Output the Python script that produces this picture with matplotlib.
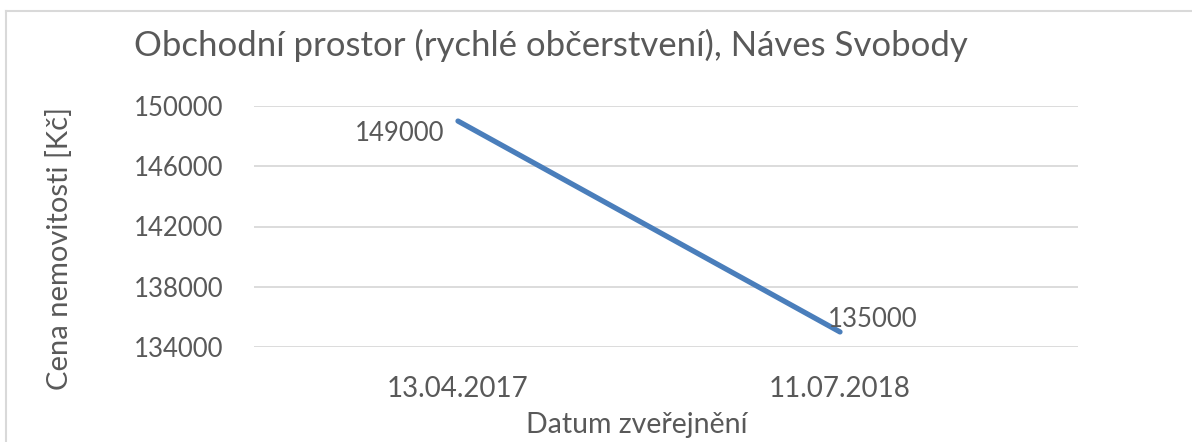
import matplotlib
matplotlib.use("Agg")
import matplotlib.pyplot as plt
from matplotlib.lines import Line2D

categories = ["13.04.2017", "11.07.2018"]
values = [149000, 135000]
yticks = [134000, 138000, 142000, 146000, 150000]
title = "Obchodní prostor (rychlé občerstvení), Náves Svobody"
xlabel = "Datum zveřejnění"
ylabel = "Cena nemovitosti [Kč]"

W, H = 1192, 442
plt.rcParams['font.family'] = ['Lato', 'DejaVu Sans']
txt = "#595959"
fig = plt.figure(figsize=(W / 100, H / 100), dpi=100)
ax = fig.add_axes([254 / W, 1 - 347 / H, (1078 - 254) / W, (347 - 106) / H])

x = list(range(len(categories)))
ax.plot(x, values, color="#4A7EBB", lw=3.8, solid_capstyle="round")
ax.set_xlim(-204 / 382, 1 + 238 / 382)
ax.set_ylim(134000, 150000)
ax.set_yticks(yticks)
ax.set_yticklabels([str(v) for v in yticks])
ax.set_xticks(x)
ax.set_xticklabels(categories)
ax.grid(axis="y", color="#D9D9D9", lw=1.3)
ax.set_axisbelow(True)
for s in ax.spines.values():
    s.set_visible(False)
ax.tick_params(length=0, colors=txt)
ax.tick_params(axis="y", pad=22, labelsize=18.5)
ax.tick_params(axis="x", pad=21, labelsize=20)

ax.annotate(str(values[0]), (x[0], values[0]), xytext=(-14, -12), textcoords="offset pixels",
            ha="right", va="center", fontsize=18.5, color=txt)
ax.annotate(str(values[1]), (x[1], values[1]), xytext=(-12, 12), textcoords="offset pixels",
            ha="left", va="center", fontsize=18.5, color=txt)

fig.text(551 / W, 1 - 45 / H, title, ha="center", va="center", fontsize=25, color=txt)
fig.text(637 / W, 1 - 425 / H, xlabel, ha="center", va="center", fontsize=20.5, color=txt)
fig.text(60 / W, 1 - 248 / H, ylabel, ha="center", va="center", rotation=90, fontsize=21, color=txt)

fig.add_artist(Line2D([6 / W, 6 / W], [0, 1 - 11 / H], transform=fig.transFigure, color="#D9D9D9", lw=1.5))
fig.add_artist(Line2D([6 / W, 1], [1 - 11 / H, 1 - 11 / H], transform=fig.transFigure, color="#D9D9D9", lw=1.5))

fig.savefig("out.png", dpi=100)
